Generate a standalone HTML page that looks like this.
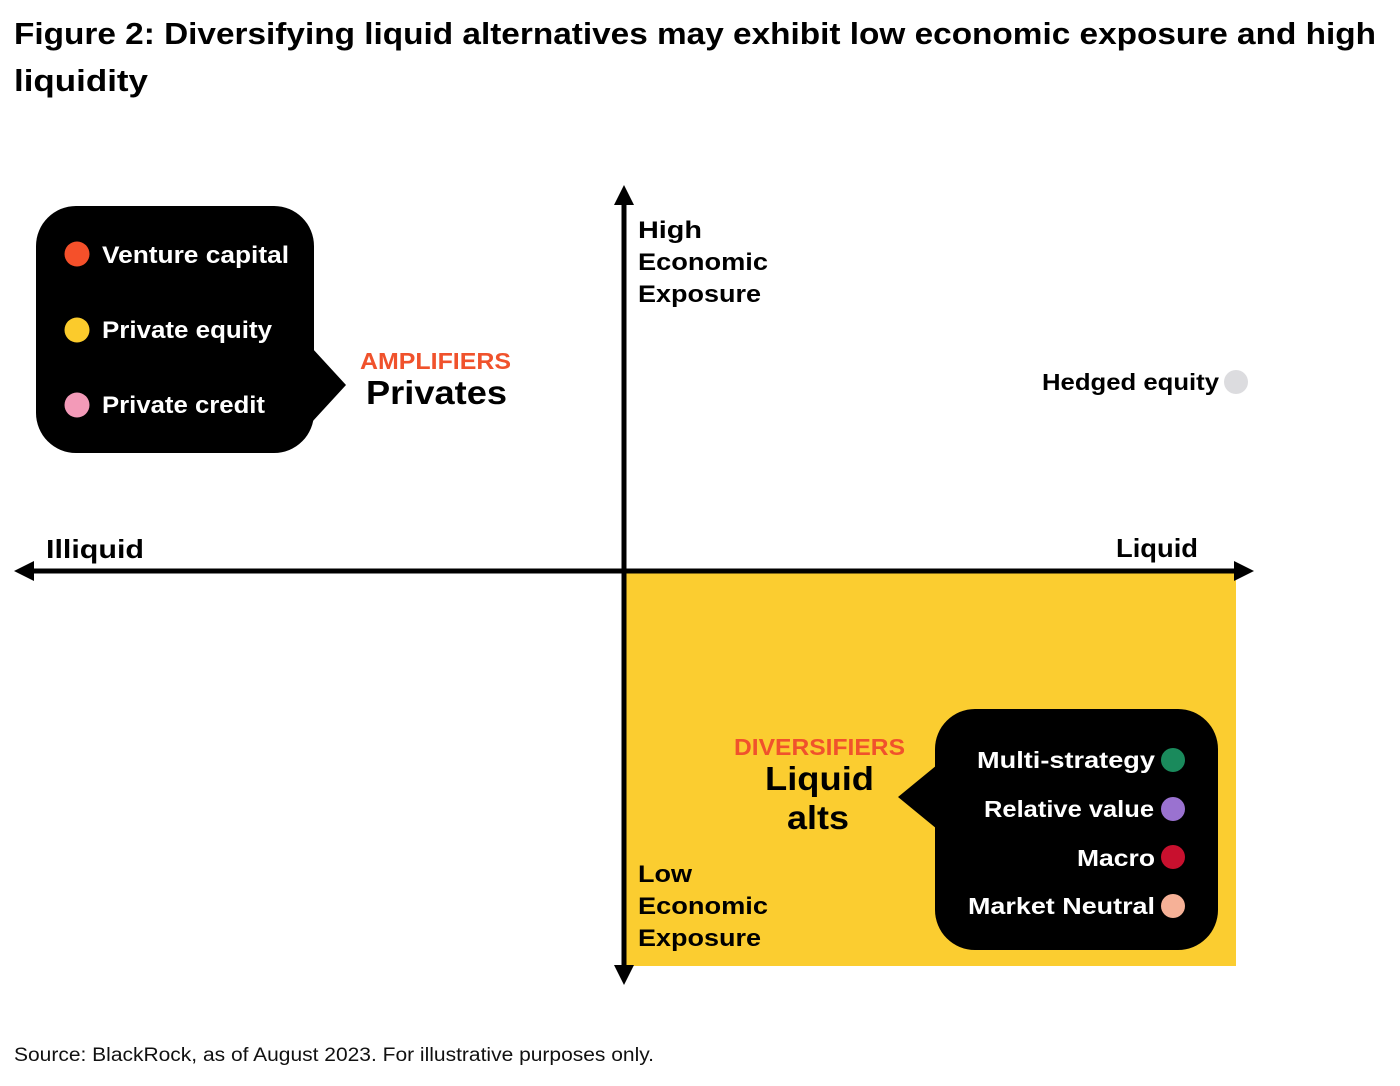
<!DOCTYPE html>
<html><head><meta charset="utf-8"><style>
body{margin:0;background:#fff;width:1400px;height:1086px;overflow:hidden;font-family:"Liberation Sans",sans-serif}
svg{position:absolute;left:0;top:0}
text{font-family:"Liberation Sans",sans-serif;font-weight:bold}
</style></head><body>
<svg width="1400" height="1086">
<text x="14" y="44" font-size="31" fill="#000" textLength="1362" lengthAdjust="spacingAndGlyphs">Figure 2: Diversifying liquid alternatives may exhibit low economic exposure and high</text>
<text x="14" y="91" font-size="31" fill="#000" textLength="134" lengthAdjust="spacingAndGlyphs">liquidity</text>
<rect x="624" y="571" width="612" height="395" fill="#fbcd30"/>
<g>
<line x1="28" y1="571" x2="1240" y2="571" stroke="#000" stroke-width="5"/>
<polygon points="14,571 34,561 34,581" fill="#000"/>
<polygon points="1254,571 1234,561 1234,581" fill="#000"/>
</g>
<g>
<line x1="624" y1="200" x2="624" y2="972" stroke="#000" stroke-width="5"/>
<polygon points="624,185 614,205 634,205" fill="#000"/>
<polygon points="624,985 614,965 634,965" fill="#000"/>
</g>
<text x="46" y="558" font-size="26" textLength="98" lengthAdjust="spacingAndGlyphs">Illiquid</text>
<text x="1116" y="557" font-size="26" textLength="82" lengthAdjust="spacingAndGlyphs">Liquid</text>
<g font-size="24">
<text x="638" y="238" textLength="64" lengthAdjust="spacingAndGlyphs">High</text><text x="638" y="270" textLength="130" lengthAdjust="spacingAndGlyphs">Economic</text><text x="638" y="302" textLength="123" lengthAdjust="spacingAndGlyphs">Exposure</text></g>
<g font-size="24">
<text x="638" y="882" textLength="54" lengthAdjust="spacingAndGlyphs">Low</text><text x="638" y="914" textLength="130" lengthAdjust="spacingAndGlyphs">Economic</text><text x="638" y="946" textLength="123" lengthAdjust="spacingAndGlyphs">Exposure</text></g>
<text x="1042" y="390" font-size="23" textLength="177" lengthAdjust="spacingAndGlyphs">Hedged equity</text>
<circle cx="1236" cy="382" r="12" fill="#dcdcdf"/>
<g>
<rect x="36" y="206" width="278" height="247" rx="40" fill="#000"/>
<polygon points="312,348 346,385 312,422" fill="#000"/>
<circle cx="77" cy="254" r="12.5" fill="#f5502a"/><text x="102" y="263" font-size="24" fill="#fff" textLength="187" lengthAdjust="spacingAndGlyphs">Venture capital</text>
<circle cx="77" cy="330" r="12.5" fill="#fbcb2c"/><text x="102" y="338" font-size="24" fill="#fff" textLength="170" lengthAdjust="spacingAndGlyphs">Private equity</text>
<circle cx="77" cy="405" r="12.5" fill="#f39ab8"/><text x="102" y="413" font-size="24" fill="#fff" textLength="163" lengthAdjust="spacingAndGlyphs">Private credit</text>
</g>
<text x="360" y="369" font-size="23" fill="#f0522c" textLength="151" lengthAdjust="spacingAndGlyphs">AMPLIFIERS</text>
<text x="366" y="404" font-size="33" textLength="141" lengthAdjust="spacingAndGlyphs">Privates</text>
<g>
<rect x="935" y="709" width="283" height="241" rx="40" fill="#000"/>
<polygon points="937,765 898,797 937,829" fill="#000"/>
<text x="977" y="768" font-size="23" fill="#fff" textLength="178" lengthAdjust="spacingAndGlyphs">Multi-strategy</text><circle cx="1173" cy="760" r="12" fill="#1a8a5c"/>
<text x="984" y="817" font-size="23" fill="#fff" textLength="170" lengthAdjust="spacingAndGlyphs">Relative value</text><circle cx="1173" cy="809" r="12" fill="#9a72d0"/>
<text x="1077" y="866" font-size="23" fill="#fff" textLength="78" lengthAdjust="spacingAndGlyphs">Macro</text><circle cx="1173" cy="857" r="12" fill="#c8102e"/>
<text x="968" y="914" font-size="23" fill="#fff" textLength="187" lengthAdjust="spacingAndGlyphs">Market Neutral</text><circle cx="1173" cy="906" r="12" fill="#f6b197"/>
</g>
<text x="734" y="755" font-size="23" fill="#f0522c" textLength="171" lengthAdjust="spacingAndGlyphs">DIVERSIFIERS</text>
<text x="765" y="790" font-size="33" textLength="109" lengthAdjust="spacingAndGlyphs">Liquid</text>
<text x="787" y="829" font-size="33" textLength="62" lengthAdjust="spacingAndGlyphs">alts</text>
<text x="14" y="1061" font-size="19" style="font-weight:normal" fill="#111" textLength="640" lengthAdjust="spacingAndGlyphs">Source: BlackRock, as of August 2023. For illustrative purposes only.</text>
</svg>
</body></html>
